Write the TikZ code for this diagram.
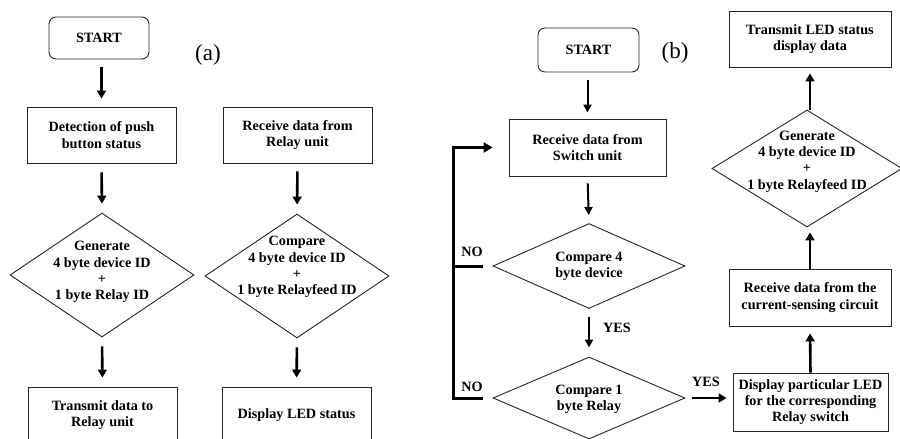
\documentclass[tikz,border=0pt]{standalone}
\usepackage{fontspec}
\setmainfont{Liberation Serif}
\usetikzlibrary{shapes.geometric,arrows.meta,calc}
\tikzset{
  txt/.style={font=\bfseries\fontsize{14.2}{16.3}\selectfont, align=center, text=black},
  boxnode/.style={txt, draw=black!85, line width=0.9pt, rectangle, inner sep=0pt},
  startnode/.style={boxnode, rounded corners=7pt},
  decision/.style={draw=black!85, line width=0.9pt, diamond, inner sep=0pt},
  dtext/.style n args={2}{label={[txt, yshift=#1]center:#2}},
  arr/.style={line width=2.6pt, -{Triangle[length=8pt,width=9pt]}},
  thinarr/.style={line width=2pt, -{Triangle[length=8pt,width=8pt]}},
  loopline/.style={line width=3pt, line join=miter},
  lbl/.style={font=\bfseries\fontsize{14.2}{16.3}\selectfont, text=black},
  panel/.style={font=\fontsize{23}{26}\selectfont, text=black}
}
\begin{document}
\begin{tikzpicture}[x=1pt,y=-1pt]
\useasboundingbox (0,0) rectangle (900,439);
\clip (0,0) rectangle (900,439);
\fill[white] (0,0) rectangle (900,439);

% ---------- panel (a) ----------
\node[startnode, minimum width=100pt, minimum height=42pt] (startA) at (99,38) {START};
\node[panel] (labelA) at (208,55) {(a)};
\node[boxnode, minimum width=149pt, minimum height=56pt] (detect) at (101.5,135) {Detection of push\\button status};
\node[boxnode, minimum width=149pt, minimum height=56pt] (recvR) at (297.5,135) {Receive data from\\Relay unit};
\node[decision, minimum width=184pt, minimum height=124pt, dtext={3pt}{Generate\\4 byte device ID\\+\\1 byte Relay ID}] (genA) at (102,275) {};
\node[decision, minimum width=184pt, minimum height=124pt, dtext={9pt}{Compare\\4 byte device ID\\+\\1 byte Relayfeed ID}] (cmpA) at (297,276) {};
\node[boxnode, minimum width=149pt, minimum height=56pt] (transA) at (102.5,415) {Transmit data to\\Relay unit};
\node[boxnode, minimum width=149pt, minimum height=56pt] (dispA) at (296.5,415) {Display LED status};

\draw[arr, shorten <=8pt, shorten >=8pt] (detect.north |- startA.south) -- (detect.north);
\draw[arr, shorten <=9pt, shorten >=9pt] (detect.south) -- (genA.north);
\draw[arr, shorten <=8pt, shorten >=9pt] (recvR.south) -- (cmpA.north);
\draw[arr, shorten <=9pt, shorten >=9pt] (genA.south) -- (transA.north);
\draw[arr, shorten <=9pt, shorten >=9pt] (cmpA.south) -- (dispA.north);

% ---------- panel (b) ----------
\node[startnode, minimum width=101pt, minimum height=44pt] (startB) at (588.5,50) {START};
\node[panel] (labelB) at (675,53) {(b)};
\node[boxnode, minimum width=157pt, minimum height=57pt] (recvS) at (587.5,147.5) {Receive data from\\Switch unit};
\node[decision, minimum width=192pt, minimum height=85pt, dtext={0pt}{Compare 4\\byte device}] (cmp4) at (589,266) {};
\node[decision, minimum width=192pt, minimum height=82pt, dtext={-1pt}{Compare 1\\byte Relay}] (cmp1) at (589,398) {};
\node[boxnode, minimum width=155pt, minimum height=58pt] (disp) at (810.5,402) {Display particular LED\\for the corresponding\\Relay switch};
\node[boxnode, minimum width=162pt, minimum height=57pt] (recvC) at (810,297.5) {Receive data from the\\current-sensing circuit};
\node[decision, minimum width=190pt, minimum height=117pt, dtext={7pt}{Generate\\4 byte device ID\\+\\1 byte Relayfeed ID}] (genB) at (807,168.5) {};
\node[boxnode, minimum width=162pt, minimum height=56pt] (transB) at (810,39) {Transmit LED status\\display data};

\coordinate (lx) at (453,0);

\draw[thinarr, shorten <=8pt, shorten >=6pt] (recvS.north |- startB.south) -- (recvS.north);
\draw[thinarr, shorten <=7pt, shorten >=8pt] (recvS.south) -- (cmp4.north);
\draw[thinarr, shorten <=8pt, shorten >=9pt] (cmp4.south) -- (cmp1.north);
\node[lbl] (yes1) at (617,328) {YES};
\draw[arr, shorten <=7pt, shorten >=6pt] (cmp1.east) -- (cmp1.east -| disp.west);
\node[lbl] (yes2) at (706,382) {YES};
\draw[arr, shorten >=7pt] (disp.north) -- (recvC.south);
\draw[arr, shorten >=5pt] (recvC.north) -- (recvC.north |- genB.south);
\draw[arr, shorten >=6pt] (recvC.north |- genB.north) -- (recvC.north |- transB.south);

% NO loops
\draw[loopline] ([xshift=-10pt]cmp4.west) -- (cmp4.west -| lx);
\draw[loopline, -{Triangle[length=9pt,width=10pt]}, shorten >=16pt] ([xshift=-10pt]cmp1.west) -- (cmp1.west -| lx) |- (recvS.west);
\node[lbl] (no1) at (472,252) {NO};
\node[lbl] (no2) at (472,387) {NO};
\end{tikzpicture}
\end{document}
